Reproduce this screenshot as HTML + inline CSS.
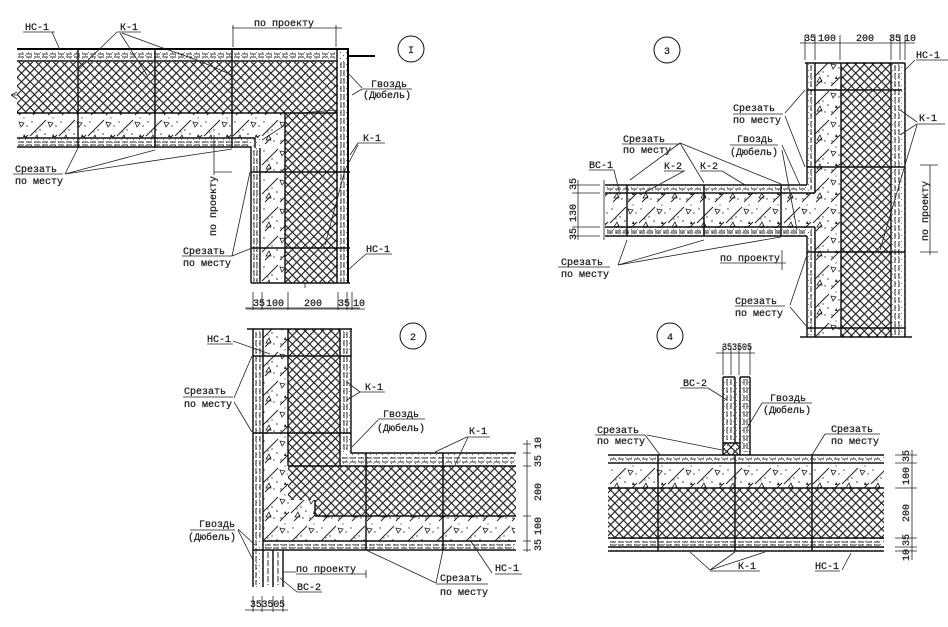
<!DOCTYPE html>
<html><head><meta charset="utf-8"><style>
html,body{margin:0;padding:0;background:#fff;width:948px;height:627px;overflow:hidden}
svg{display:block}
text{font-family:"Liberation Mono","DejaVu Sans Mono",monospace;font-size:10px;fill:#222;stroke:#222;stroke-width:.25}
.l{stroke:#222;stroke-width:.8;fill:none}
.b{stroke:#111;stroke-width:1.4;fill:none}
.t{stroke:#000;stroke-width:2;fill:none}
.d{stroke:#333;stroke-width:1;fill:none;stroke-dasharray:6 2}
</style></head><body>
<svg width="948" height="627" viewBox="0 0 948 627" xmlns="http://www.w3.org/2000/svg">
<defs>
<pattern id="x" width="8.6" height="8.6" patternUnits="userSpaceOnUse">
<path d="M0 0L8.6 8.6M8.6 0L0 8.6" stroke="#1a1a1a" stroke-width="1.1"/>
</pattern>
<pattern id="c" width="29" height="29" patternUnits="userSpaceOnUse">
<path d="M1 20L17 4M19 28L28 19M4 28L10 22" stroke="#222" stroke-width="1" fill="none"/>
<path d="M19 6l5 1-3 4zM5 24l5 0-2-5z" stroke="#222" stroke-width=".8" fill="none"/>
<path d="M23 21l3 0-2-3z" fill="#222"/>
<g fill="#333"><circle cx="3" cy="6" r=".7"/><circle cx="11" cy="14" r=".7"/><circle cx="16" cy="18" r=".8"/><circle cx="27" cy="10" r=".7"/><circle cx="20" cy="25" r=".7"/><circle cx="13" cy="25" r=".7"/><circle cx="7" cy="16" r=".6"/><circle cx="24" cy="2" r=".6"/></g>
</pattern>
<pattern id="s" width="6" height="6" patternUnits="userSpaceOnUse">
<g fill="#555"><circle cx="1.5" cy="1.5" r=".55"/><circle cx="4.5" cy="4.5" r=".55"/></g>
</pattern>
<filter id="bl" x="0" y="0" width="100%" height="100%"><feGaussianBlur stdDeviation=".35"/></filter>
</defs>
<rect width="948" height="627" fill="#fff"/>
<g filter="url(#bl)">

<!-- DIAGRAM 1 -->
<rect x="17" y="62" width="320" height="51" fill="url(#x)"/>
<rect x="285" y="113" width="52" height="170" fill="url(#x)"/>
<path d="M17 113H285V283H260V138H17Z" fill="#fff"/>
<path d="M17 113H285V283H260V138H17Z" fill="url(#c)"/>
<rect x="17" y="48" width="331" height="14" fill="url(#s)"/>
<rect x="17" y="138" width="243" height="10" fill="url(#s)"/>
<rect x="251" y="148" width="9" height="135" fill="url(#s)"/>
<rect x="337" y="48" width="11" height="235" fill="url(#s)"/>
<path class="t" d="M17 49H348V283"/>
<path class="b" d="M17 61H337M17 113H337M337 50V283M285 113V283M17 138H255V148M17 147H251V283M260 148V283M251 283H350"/>
<path class="d" d="M18 54H335M18 57H335M18 142H250M18 145H250M341 62V282M344 62V282M254 150V282M257 150V282"/>
<path class="b" d="M78 48V148M155 48V148M232 48V148M251 172H350M251 248H350"/>
<path class="t" d="M348 56H375"/>
<path class="l" d="M12 95H17M17 92L11 95L17 99M305 283L305 288M23 32H55M52 32L60 50M117 32H141M117 32L78 70M120 33L147 75M122 33L160 47M160 47L197 60L232 75M232 28H342M233 25V47M336 25V47M362 89H412M362 88L347 72M362 89L352 95M358 143H385M358 143L350 155M358 145L345 170M345 170L325 245M13 174H63M65 174L78 148M65 174L155 150M65 174L232 149M214 135V175M214 172H232M182 256H232M232 256L250 172M232 256L252 248M366 254H392M366 254L348 270M285 125L262 140M337 110L300 113"/>
<text x="25" y="30">НС-1</text><text x="120" y="30">К-1</text><text x="254" y="26">по проекту</text>
<text x="371" y="87">Гвоздь</text><text x="363" y="98">(Дюбель)</text><text x="363" y="141">К-1</text>
<text x="15" y="172">Срезать</text><text x="15" y="184">по месту</text>
<text transform="translate(216,236) rotate(-90)">по проекту</text>
<text x="183" y="254">Срезать</text><text x="183" y="266">по месту</text><text x="366" y="252">НС-1</text>
<circle cx="411" cy="49" r="13" fill="none" stroke="#111"/><text x="408" y="53">I</text>
<text x="253" y="306">35</text><text x="266" y="306">100</text><text x="304" y="306">200</text><text x="338" y="306">35</text><text x="353" y="306">10</text>
<path class="l" d="M246 309H365M253 292V310M262 292V310M288 292V310M338 292V310M347 292V310M352 292V310"/>

<!-- DIAGRAM 2 -->
<path d="M288 329H340V466H516V516H315V500H288Z" fill="url(#x)"/>
<path d="M263 329H288V500H315V516H515V541H263Z" fill="url(#c)"/>
<rect x="253" y="329" width="10" height="258" fill="url(#s)"/>
<rect x="263" y="541" width="252" height="9" fill="url(#s)"/>
<rect x="340" y="453" width="175" height="13" fill="url(#s)"/>
<rect x="340" y="329" width="12" height="124" fill="url(#s)"/>
<path class="b" d="M263 329V541M288 329V466M288 466H516M315 500V516M315 516H516M263 541H516M253 550H516M340 329V466M351 329V453H516M253 329V587M263 541V587M273 550V587M283 550V587M247 329H352"/>
<path class="d" d="M256 332V585M260 332V540M344 332V450M347 332V450M342 458H514M342 462H514M265 545H514M265 548H514M268 552V585M278 552V585"/>
<path class="b" d="M253 356H351M253 433H351M366 453V550M443 453V550"/>
<path class="l" d="M245 308H360M207 344H233M233 341L270 354M183 397H233M234 398L252 356M234 402L252 432M360 392H385M360 392L347 382M360 392L347 400M378 419H425M378 420L352 447M467 437H490M467 437L435 452M468 437L455 465M527 440V552M523 444H531M523 453H531M523 466H531M523 516H531M523 541H531M523 550H531M190 530H235M238 529L255 545M238 530L253 560M296 574H366M366 570V578M283 572H296M297 592H322M297 592L280 578M495 574H522M492 573L470 540M436 584H488M436 583L366 550M436 583L443 550M245 610H288M253 596V612M262 596V612M273 596V612M283 596V612"/>
<text x="207" y="342">НС-1</text><text x="184" y="394">Срезать</text><text x="184" y="407">по месту</text>
<text x="365" y="390">К-1</text><text x="383" y="417">Гвоздь</text><text x="377" y="431">(Дюбель)</text><text x="469" y="434">К-1</text>
<text transform="translate(541,449) rotate(-90)">10</text><text transform="translate(541,467) rotate(-90)">35</text><text transform="translate(541,501) rotate(-90)">200</text><text transform="translate(541,535) rotate(-90)">100</text><text transform="translate(541,551) rotate(-90)">35</text>
<text x="199" y="527">Гвоздь</text><text x="188" y="540">(Дюбель)</text><text x="296" y="572">по проекту</text>
<text x="297" y="590">ВС-2</text><text x="250" y="607" textLength="35" lengthAdjust="spacingAndGlyphs">353505</text>
<text x="495" y="571">НС-1</text><text x="440" y="581">Срезать</text><text x="440" y="595">по месту</text>
<circle cx="413" cy="336" r="13" fill="none" stroke="#111"/><text x="410" y="340">2</text>

<!-- DIAGRAM 3 -->
<rect x="841" y="63" width="50" height="274" fill="url(#x)"/>
<path d="M815 63H841V337H815V228H605V193H815Z" fill="url(#c)"/>
<rect x="807" y="63" width="8" height="130" fill="url(#s)"/>
<rect x="807" y="228" width="8" height="109" fill="url(#s)"/>
<rect x="891" y="63" width="14" height="274" fill="url(#s)"/>
<rect x="605" y="185" width="203" height="8" fill="url(#s)"/>
<rect x="605" y="227" width="210" height="9" fill="url(#s)"/>
<path class="b" d="M805 63H905M800 337H912M807 63V185M815 63V193M841 63V337M891 63V337M905 63V337M807 236V337M815 227V337M605 185H807M605 193H815M605 227H815M605 236H807"/>
<path class="d" d="M811 65V190M811 230V335M895 65V335M899 65V335M607 189H805M607 231H805M607 233H805"/>
<path class="b" d="M807 90H902M807 167H905M807 252H905M807 328H905M627 185V236M704 185V236M781 185V236"/>
<path class="l" d="M604 180V240M800 43H915M805 35V60M815 35V60M840 35V60M891 35V60M900 35V60M905 35V60M916 60H948M915 60L905 70M917 124H945M917 122L900 110M917 124L900 135M917 125L905 165M905 165L880 250M733 114H783M785 113L805 90M785 116L805 167M622 144H680M680 143L630 180M680 143L704 183M680 143L781 184M730 145H778M782 145L800 185M782 150L797 230M589 170H614M614 170L620 195M664 171H685M684 171L640 195M700 171H722M722 171L745 185M558 267H610M618 265L627 240M618 265L704 240M618 265L781 237M720 263H786M782 250V270M735 306H785M790 305L808 252M790 307L808 328M930 165V255M920 165H938M920 252H938M572 185H600M572 193H600M572 227H600M572 236H600M578 180V240"/>
<text x="804" y="41">35</text><text x="818" y="41">100</text><text x="856" y="41">200</text><text x="889" y="41">35</text><text x="904" y="41">10</text>
<text x="916" y="58">НС-1</text><text x="919" y="121">К-1</text><text x="733" y="111">Срезать</text><text x="733" y="123">по месту</text>
<text x="623" y="142">Срезать</text><text x="623" y="153">по месту</text><text x="737" y="142">Гвоздь</text><text x="730" y="155">(Дюбель)</text>
<text x="589" y="168">ВС-1</text><text x="664" y="169">К-2</text><text x="700" y="169">К-2</text>
<text x="561" y="265">Срезать</text><text x="561" y="277">по месту</text><text x="720" y="261">по проекту</text>
<text x="735" y="304">Срезать</text><text x="735" y="316">по месту</text>
<text transform="translate(928,241) rotate(-90)">по проекту</text>
<text transform="translate(576,190) rotate(-90)">35</text><text transform="translate(576,222) rotate(-90)">130</text><text transform="translate(576,240) rotate(-90)">35</text>
<circle cx="667" cy="50" r="13" fill="none" stroke="#111"/><text x="664" y="54">3</text>

<!-- DIAGRAM 4 -->
<rect x="608" y="488" width="276" height="51" fill="url(#x)"/>
<rect x="608" y="463" width="276" height="25" fill="url(#c)"/>
<rect x="608" y="455" width="276" height="8" fill="url(#s)"/>
<rect x="608" y="539" width="276" height="12" fill="url(#s)"/>
<rect x="723" y="377" width="27" height="78" fill="url(#s)"/>
<rect x="723" y="443" width="17" height="12" fill="url(#x)"/>
<path class="b" d="M608 455H884M608 463H884M608 488H884M608 538H884M608 547H884M608 551H884M723 377V455M735 377V443M740 377V455M750 377V455M723 443H740M723 377H735M740 377H750"/>
<path class="d" d="M610 459H882M610 542H882M610 545H882M727 379V440M731 379V440M744 379V452M747 379V452"/>
<path class="b" d="M658 455V551M735 455V551M812 455V551"/>
<path class="l" d="M716 353H755M723 346V375M731 346V375M739 346V375M750 346V375M680 388H708M708 388L727 400M762 403H812M762 403L747 428M595 435H645M645 435L660 455M647 435L722 450M825 434H880M825 434L812 455M710 571H760M710 570L690 552M710 570L735 552M710 570L765 552M815 571H840M842 570L851 553M895 455H917M895 463H917M895 488H917M895 538H917M895 547H917M895 551H917M912 450V560"/>
<text x="722" y="350" textLength="30" lengthAdjust="spacingAndGlyphs">353505</text>
<text x="683" y="386">ВС-2</text><text x="770" y="401">Гвоздь</text><text x="763" y="413">(Дюбель)</text>
<text x="597" y="433">Срезать</text><text x="597" y="444">по месту</text><text x="831" y="432">Срезать</text><text x="831" y="444">по месту</text>
<text x="738" y="569">К-1</text><text x="815" y="569">НС-1</text>
<text transform="translate(909,462) rotate(-90)">35</text><text transform="translate(909,485) rotate(-90)">100</text><text transform="translate(909,522) rotate(-90)">200</text><text transform="translate(909,546) rotate(-90)">35</text><text transform="translate(909,561) rotate(-90)">10</text>
<circle cx="670" cy="336" r="13" fill="none" stroke="#111"/><text x="667" y="340">4</text>
</g>
</svg>
</body></html>
